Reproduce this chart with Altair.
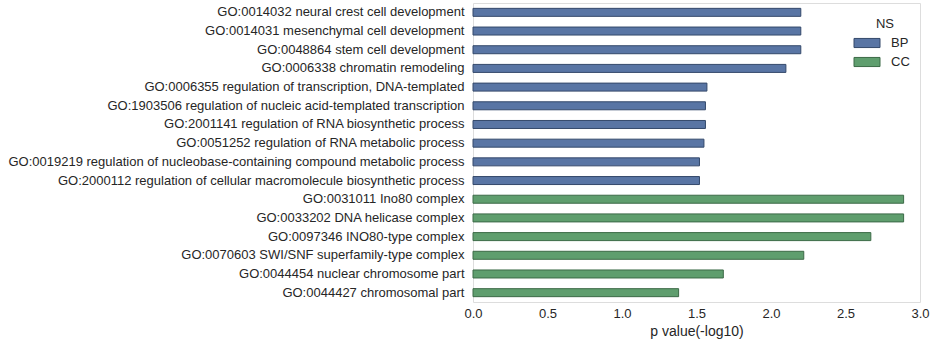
import altair as alt
import pandas as pd

terms = [
    "GO:0014032 neural crest cell development",
    "GO:0014031 mesenchymal cell development",
    "GO:0048864 stem cell development",
    "GO:0006338 chromatin remodeling",
    "GO:0006355 regulation of transcription, DNA-templated",
    "GO:1903506 regulation of nucleic acid-templated transcription",
    "GO:2001141 regulation of RNA biosynthetic process",
    "GO:0051252 regulation of RNA metabolic process",
    "GO:0019219 regulation of nucleobase-containing compound metabolic process",
    "GO:2000112 regulation of cellular macromolecule biosynthetic process",
    "GO:0031011 Ino80 complex",
    "GO:0033202 DNA helicase complex",
    "GO:0097346 INO80-type complex",
    "GO:0070603 SWI/SNF superfamily-type complex",
    "GO:0044454 nuclear chromosome part",
    "GO:0044427 chromosomal part",
]
ns = ["BP"] * 10 + ["CC"] * 6
pvals = [2.20, 2.20, 2.20, 2.10, 1.57, 1.56, 1.56, 1.55, 1.52, 1.52,
         2.89, 2.89, 2.67, 2.22, 1.68, 1.38]
x_ticks = [0.0, 0.5, 1.0, 1.5, 2.0, 2.5, 3.0]

df = pd.DataFrame({"term": terms, "NS": ns, "p": pvals})

FONT = "Liberation Sans"
TXT = "#262626"

legend = alt.Legend(
    orient="none", legendX=387, legendY=15,
    title="NS", titleAnchor="middle", titleFont=FONT, titleFontSize=13,
    titleFontWeight="normal", titleColor=TXT, titlePadding=5,
    labelFont=FONT, labelFontSize=13, labelColor=TXT, labelOffset=17,
    symbolType="M-2,-0.7L2,-0.7L2,0.7L-2,0.7Z", symbolSize=169,
    symbolStrokeWidth=1, symbolOpacity=1, rowPadding=5, padding=0,
)

chart = alt.Chart(df).mark_bar(size=8, strokeWidth=1, opacity=1).encode(
    x=alt.X("p:Q", scale=alt.Scale(domain=[0, 3], nice=False, zero=True),
            axis=alt.Axis(values=x_ticks, format=".1f", title="p value(-log10)",
                          grid=False, domain=False, ticks=False, labelFlush=False,
                          labelFont=FONT, labelFontSize=13, labelColor=TXT,
                          labelPadding=5, titleFont=FONT, titleFontSize=14,
                          titleFontWeight="normal", titleColor=TXT, titlePadding=4)),
    y=alt.Y("term:N", sort=terms,
            scale=alt.Scale(paddingInner=0, paddingOuter=0),
            axis=alt.Axis(title=None, grid=False, domain=False, ticks=False,
                          labelFont=FONT, labelFontSize=13, labelColor=TXT,
                          labelPadding=9, labelLimit=0)),
    fill=alt.Fill("NS:N", scale=alt.Scale(domain=["BP", "CC"], range=["#5975a4", "#5f9e6e"]),
                  legend=legend),
    stroke=alt.Stroke("NS:N", scale=alt.Scale(domain=["BP", "CC"], range=["#34496b", "#3c6a47"]),
                      legend=legend),
).properties(
    width=447, height=299,
    autosize=alt.AutoSizeParams(type="none"),
    padding={"left": 473, "top": 3, "right": 15, "bottom": 43},
).configure_view(stroke=None).configure(background="white")

chart.save("out.html", embed_options={"renderer": "svg", "actions": False})
